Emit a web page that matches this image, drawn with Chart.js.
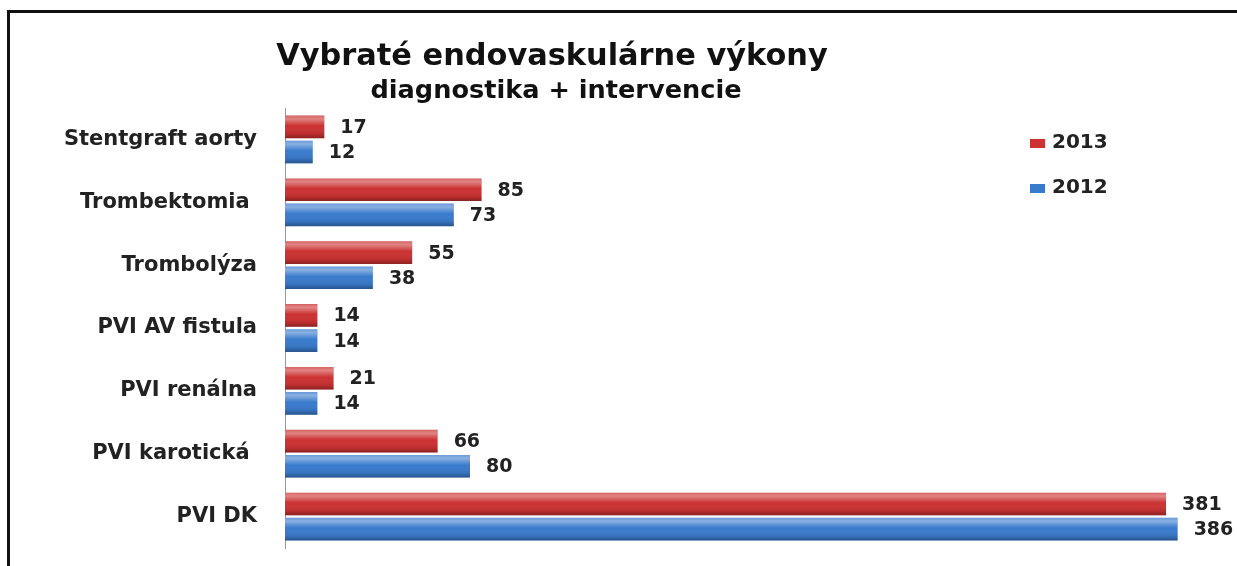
<!DOCTYPE html>
<html>
<head>
<meta charset="utf-8">
<script src="https://cdn.jsdelivr.net/npm/chart.js@4"></script>
<style>
  html, body { margin: 0; padding: 0; background: #fff; }
  #wrap { position: relative; width: 1237px; height: 566px; overflow: hidden; }
  #frame { position: absolute; left: 7px; top: 10px; width: 1240px; height: 600px;
           border-top: 3px solid #111; border-left: 3px solid #111; }
  canvas { position: absolute; left: 0; top: 0; }
</style>
</head>
<body>
<div id="wrap">
  <div id="frame"></div>
  <canvas id="chart" width="1237" height="566"></canvas>
</div>
<script>
// data
const categories = ['Stentgraft aorty', 'Trombektomia ', 'Trombolýza', 'PVI AV fistula', 'PVI renálna', 'PVI karotická ', 'PVI DK'];
const values2013 = [17, 85, 55, 14, 21, 66, 381];
const values2012 = [12, 73, 38, 14, 14, 80, 386];
const seriesNames = ['2013', '2012'];

const titleText = 'Vybraté endovaskulárne výkony';
const subtitleText = 'diagnostika + intervencie';

const RED = '#cc3232';
const BLUE = '#3a7bcd';
const FONT = '"DejaVu Sans"';

// fit a bold text to a given width (the original text is a bit stretched)
function fitFont(ctx, text, width) {
  ctx.font = 'bold 20px ' + FONT;
  const size = 20 * width / ctx.measureText(text).width;
  ctx.font = 'bold ' + size.toFixed(1) + 'px ' + FONT;
}

// shading to make the bars look like the 3D ones in the original
const shadeBars = {
  id: 'shadeBars',
  afterDatasetsDraw(chart) {
    const ctx = chart.ctx;
    chart.data.datasets.forEach((ds, i) => {
      chart.getDatasetMeta(i).data.forEach(bar => {
        const top = bar.y - bar.height / 2, h = bar.height;
        const g = ctx.createLinearGradient(0, top, 0, top + h);
        g.addColorStop(0, 'rgba(255,255,255,0.25)');
        g.addColorStop(0.15, 'rgba(255,255,255,0.4)');
        g.addColorStop(0.45, 'rgba(255,255,255,0)');
        g.addColorStop(0.8, 'rgba(0,0,0,0.08)');
        g.addColorStop(1, 'rgba(0,0,0,0.32)');
        ctx.save();
        ctx.fillStyle = g;
        ctx.fillRect(bar.base, top, bar.x - bar.base, h);
        ctx.restore();
      });
    });
  }
};

// value labels at the end of each bar
const valueLabels = {
  id: 'valueLabels',
  afterDatasetsDraw(chart) {
    const ctx = chart.ctx;
    ctx.save();
    ctx.font = 'bold 19px ' + FONT;
    ctx.fillStyle = '#222';
    ctx.textBaseline = 'middle';
    chart.data.datasets.forEach((ds, i) => {
      chart.getDatasetMeta(i).data.forEach((bar, j) => {
        ctx.fillText(ds.data[j], bar.x + 16, bar.y + 1);
      });
    });
    ctx.restore();
  }
};

// title, subtitle and the little legend on the right
const headerAndLegend = {
  id: 'headerAndLegend',
  afterDraw(chart) {
    const ctx = chart.ctx;
    ctx.save();
    ctx.fillStyle = '#111';
    ctx.textAlign = 'center';
    ctx.textBaseline = 'alphabetic';
    fitFont(ctx, titleText, 551);
    ctx.fillText(titleText, 552, 65);
    fitFont(ctx, subtitleText, 371);
    ctx.fillText(subtitleText, 556, 98);

    ctx.textAlign = 'left';
    ctx.textBaseline = 'middle';
    ctx.font = 'bold 20px ' + FONT;
    chart.data.datasets.forEach((ds, i) => {
      const y = 143 + i * 45;
      ctx.fillStyle = ds.backgroundColor;
      ctx.fillRect(1030, y - 4, 15, 9);
      ctx.fillStyle = '#222';
      ctx.fillText(ds.label, 1052, y);
    });
    ctx.restore();
  }
};

new Chart(document.getElementById('chart'), {
  type: 'bar',
  data: {
    labels: categories,
    datasets: [
      { label: seriesNames[0], data: values2013, backgroundColor: RED },
      { label: seriesNames[1], data: values2012, backgroundColor: BLUE }
    ]
  },
  options: {
    indexAxis: 'y',
    responsive: false,
    animation: false,
    categoryPercentage: 0.8,
    barPercentage: 0.9,
    layout: { padding: { top: 108, bottom: 18, left: 0, right: 27 } },
    plugins: { legend: { display: false }, tooltip: { enabled: false } },
    scales: {
      x: { display: false, min: 0, max: 400 },
      y: {
        grid: { display: false },
        border: { display: true, color: '#999', width: 1 },
        ticks: { color: '#222', font: { family: 'DejaVu Sans', size: 21, weight: 'bold' }, padding: 20 },
        afterFit(scale) {
          scale.width = 285;
          // labels sit inside their bands, no extra room needed above/below
          scale.paddingTop = 0;
          scale.paddingBottom = 0;
        }
      }
    }
  },
  plugins: [shadeBars, valueLabels, headerAndLegend]
});
</script>
</body>
</html>
